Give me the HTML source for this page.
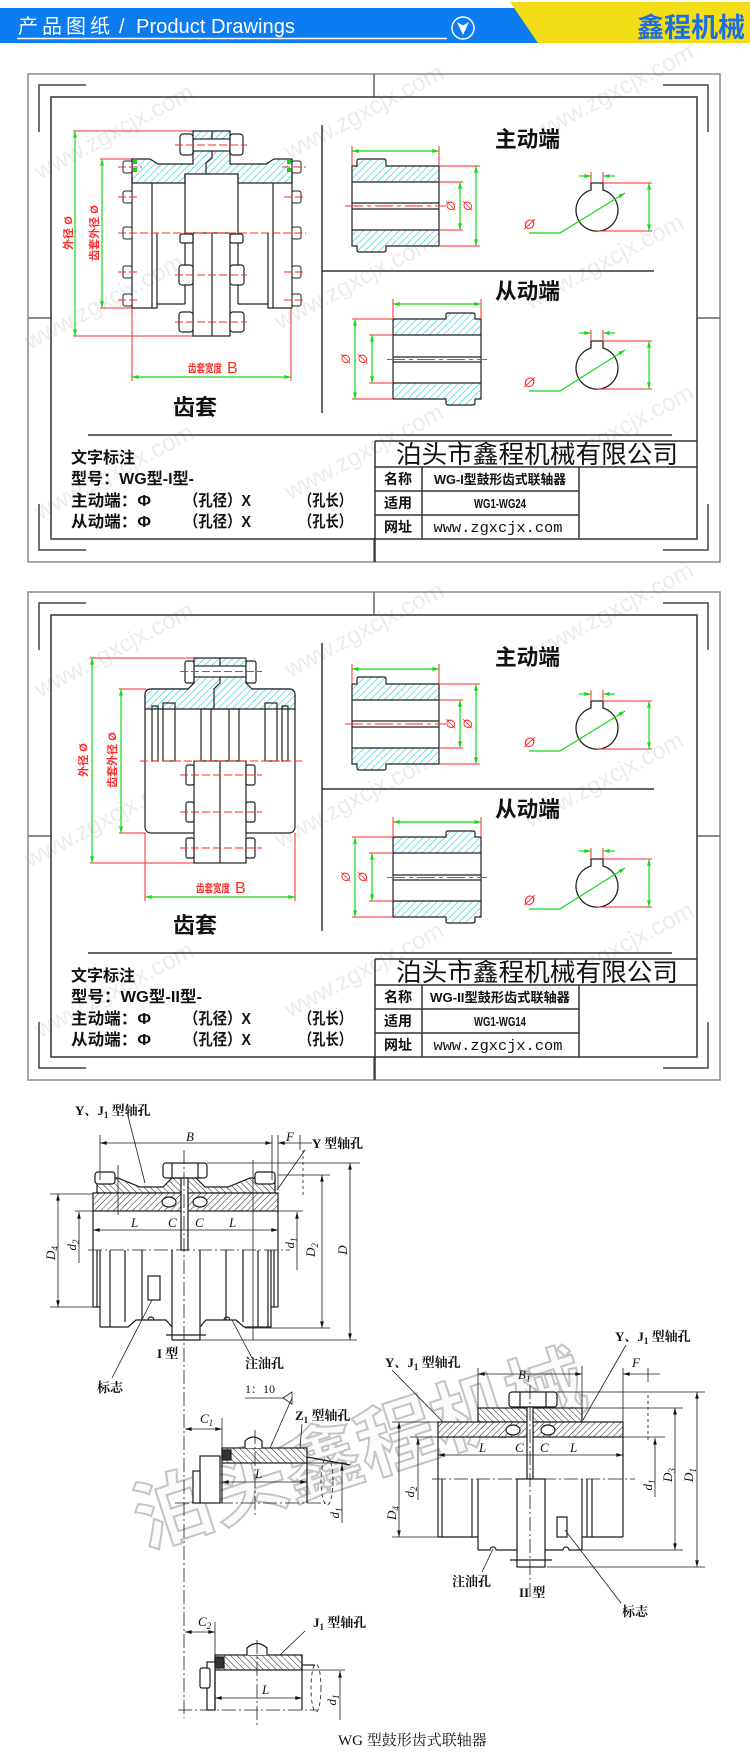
<!DOCTYPE html>
<html><head><meta charset="utf-8">
<style>
html,body{margin:0;padding:0;background:#fff}
svg{display:block}
.cn{font-family:"Liberation Sans","Noto Sans CJK SC",sans-serif}
.sf{font-family:"Liberation Serif","Noto Serif CJK SC",serif}
.mono{font-family:"Liberation Mono","Noto Sans CJK SC",monospace}
</style></head><body>
<svg width="750" height="1756" viewBox="0 0 750 1756" xmlns="http://www.w3.org/2000/svg" xmlns:xlink="http://www.w3.org/1999/xlink">
<defs>
<pattern id="hc" patternUnits="userSpaceOnUse" width="5" height="5" patternTransform="rotate(45)">
<rect width="5" height="5" fill="#fff"/><line x1="0" y1="0" x2="0" y2="5" stroke="#22c4da" stroke-width="1.2"/></pattern>
<pattern id="hk1" patternUnits="userSpaceOnUse" width="4.5" height="4.5" patternTransform="rotate(45)">
<rect width="4.5" height="4.5" fill="#fff"/><line x1="0" y1="0" x2="0" y2="4.5" stroke="#222" stroke-width="1"/></pattern>
<pattern id="hk2" patternUnits="userSpaceOnUse" width="4.5" height="4.5" patternTransform="rotate(-45)">
<rect width="4.5" height="4.5" fill="#fff"/><line x1="0" y1="0" x2="0" y2="4.5" stroke="#222" stroke-width="1"/></pattern>
<marker id="ag" viewBox="0 0 8 6" refX="8" refY="3" markerWidth="7" markerHeight="5" markerUnits="userSpaceOnUse" orient="auto-start-reverse"><path d="M0,0.6 L8,3 L0,5.4 Z" fill="#18d818"/></marker>
<marker id="ak" viewBox="0 0 8 6" refX="8" refY="3" markerWidth="7" markerHeight="5" markerUnits="userSpaceOnUse" orient="auto-start-reverse"><path d="M0,0.8 L8,3 L0,5.2 Z" fill="#111"/></marker>
</defs>

<!-- ============ HEADER ============ -->
<rect x="0" y="8" width="545" height="35" fill="#0c7cf2"/>
<polygon points="510,2 750,2 750,43 538,43" fill="#f3dd17"/>
<line x1="17" y1="38.5" x2="447" y2="38.5" stroke="#fff" stroke-width="1.5"/>
<text class="cn" x="18" y="33" font-size="20" fill="#fff" letter-spacing="4">产品图纸</text>
<text class="cn" x="119" y="33" font-size="20" fill="#fff">/</text>
<text class="cn" x="136" y="33" font-size="20" fill="#fff" textLength="159" lengthAdjust="spacingAndGlyphs">Product Drawings</text>
<circle cx="463" cy="28" r="11" fill="none" stroke="#fff" stroke-width="1.5"/>
<path d="M457,22 L463,25.5 L469,22 L463,35 Z" fill="#fff"/>
<text class="cn" x="637" y="37" font-size="27" font-weight="bold" fill="#1c6ee6" textLength="108" lengthAdjust="spacingAndGlyphs">鑫程机械</text>

<!-- ============ faint watermarks ============ -->
<g class="cn" font-size="24" fill="#ececec">
<text x="40" y="180" transform="rotate(-28 40 180)">www.zgxcjx.com</text>
<text x="290" y="160" transform="rotate(-28 290 160)">www.zgxcjx.com</text>
<text x="540" y="140" transform="rotate(-28 540 140)">www.zgxcjx.com</text>
<text x="30" y="350" transform="rotate(-28 30 350)">www.zgxcjx.com</text>
<text x="280" y="330" transform="rotate(-28 280 330)">www.zgxcjx.com</text>
<text x="530" y="310" transform="rotate(-28 530 310)">www.zgxcjx.com</text>
<text x="40" y="520" transform="rotate(-28 40 520)">www.zgxcjx.com</text>
<text x="290" y="500" transform="rotate(-28 290 500)">www.zgxcjx.com</text>
<text x="540" y="480" transform="rotate(-28 540 480)">www.zgxcjx.com</text>
<text x="40" y="698" transform="rotate(-28 40 698)">www.zgxcjx.com</text>
<text x="290" y="678" transform="rotate(-28 290 678)">www.zgxcjx.com</text>
<text x="540" y="658" transform="rotate(-28 540 658)">www.zgxcjx.com</text>
<text x="30" y="868" transform="rotate(-28 30 868)">www.zgxcjx.com</text>
<text x="280" y="848" transform="rotate(-28 280 848)">www.zgxcjx.com</text>
<text x="530" y="828" transform="rotate(-28 530 828)">www.zgxcjx.com</text>
<text x="40" y="1038" transform="rotate(-28 40 1038)">www.zgxcjx.com</text>
<text x="290" y="1018" transform="rotate(-28 290 1018)">www.zgxcjx.com</text>
<text x="540" y="998" transform="rotate(-28 540 998)">www.zgxcjx.com</text>
</g>

<!-- ============ COMMON FRAME + RIGHT SECTION (drawing 1 coords) ============ -->
<g id="common">
 <rect x="28" y="74" width="692" height="488" fill="none" stroke="#8a8a8a" stroke-width="1.5"/>
 <g stroke="#666" stroke-width="1.5" fill="none">
  <line x1="374" y1="74" x2="374" y2="97"/>
  <line x1="374" y1="539" x2="374" y2="562"/>
  <line x1="28" y1="318" x2="51" y2="318"/>
  <line x1="697" y1="318" x2="720" y2="318"/>
 </g>
 <g stroke="#444" stroke-width="1.5" fill="none">
  <path d="M86,85 H39 V132"/>
  <path d="M663,85 H708 V132"/>
  <path d="M39,504 V550 H86"/>
  <path d="M708,504 V550 H663"/>
 </g>
 <rect x="51" y="97" width="646" height="442" fill="none" stroke="#333" stroke-width="1.5"/>
 <g stroke="#333" stroke-width="1.5" fill="none">
  <line x1="322" y1="125" x2="322" y2="413"/>
  <line x1="322" y1="271" x2="654" y2="271"/>
  <line x1="88" y1="435" x2="672" y2="435"/>
  <line x1="375" y1="441" x2="697" y2="441"/>
  <line x1="375" y1="441" x2="375" y2="562"/>
  <line x1="375" y1="467" x2="697" y2="467"/>
  <line x1="375" y1="491" x2="579" y2="491"/>
  <line x1="375" y1="515" x2="579" y2="515"/>
  <line x1="422" y1="467" x2="422" y2="539"/>
  <line x1="579" y1="467" x2="579" y2="539"/>
 </g>
 <!-- driving hub -->
 <g stroke="#222" stroke-width="1.2" fill="none">
  <path d="M352,166 H357 V161 Q357,159 359,159 H384 Q386,159 386,161 V166 H439 V182 H352 Z" fill="url(#hc)"/>
  <path d="M352,230 H439 V246 H386 V250 Q386,252 384,252 H359 Q357,252 357,250 V246 H352 Z" fill="url(#hc)"/>
  <line x1="352" y1="182" x2="352" y2="230"/>
  <line x1="439" y1="182" x2="439" y2="230"/>
  <line x1="352" y1="203" x2="439" y2="203"/>
  <line x1="352" y1="209" x2="439" y2="209"/>
 </g>
 <g stroke="#ff2a2a" stroke-width="1" fill="none">
  <line x1="345" y1="206" x2="446" y2="206" stroke-dasharray="18,4,4,4"/>
  <line x1="352" y1="146" x2="352" y2="166"/>
  <line x1="439" y1="146" x2="439" y2="166"/>
  <line x1="439" y1="166" x2="480" y2="166"/>
  <line x1="439" y1="246" x2="480" y2="246"/>
  <line x1="439" y1="182" x2="463" y2="182"/>
  <line x1="439" y1="230" x2="463" y2="230"/>
 </g>
 <g stroke="#18d818" stroke-width="1.2" fill="none">
  <line x1="352" y1="151" x2="439" y2="151" marker-start="url(#ag)" marker-end="url(#ag)"/>
  <line x1="476" y1="166" x2="476" y2="246" marker-start="url(#ag)" marker-end="url(#ag)"/>
  <line x1="460" y1="182" x2="460" y2="230" marker-start="url(#ag)" marker-end="url(#ag)"/>
 </g>
 <!-- key circle 1 -->
 <path d="M591,190 V183 H603 V190 A21,21 0 1 1 591,190 Z" fill="#fff" stroke="#222" stroke-width="1.3"/>
 <g stroke="#ff2a2a" stroke-width="1" fill="none">
  <line x1="591" y1="172" x2="591" y2="183"/>
  <line x1="603" y1="172" x2="603" y2="183"/>
  <line x1="603" y1="183" x2="652" y2="183"/>
  <line x1="597" y1="231" x2="652" y2="231"/>
 </g>
 <g stroke="#18d818" stroke-width="1.2" fill="none">
  <line x1="579" y1="176" x2="591" y2="176" marker-end="url(#ag)"/>
  <line x1="615" y1="176" x2="603" y2="176" marker-end="url(#ag)"/>
  <line x1="649" y1="183" x2="649" y2="231" marker-start="url(#ag)" marker-end="url(#ag)"/>
  <polyline points="529,233 560,233 625,193" marker-end="url(#ag)"/>
 </g>
 <!-- driven hub -->
 <g stroke="#222" stroke-width="1.2" fill="none">
  <path d="M393,319 H446 V315 Q446,313 448,313 H473 Q475,313 475,315 V319 H481 V335 H393 Z" fill="url(#hc)"/>
  <path d="M393,383 H481 V399 H475 V403 Q475,405 473,405 H448 Q446,405 446,403 V399 H393 Z" fill="url(#hc)"/>
  <line x1="393" y1="335" x2="393" y2="383"/>
  <line x1="481" y1="335" x2="481" y2="383"/>
  <line x1="393" y1="357" x2="481" y2="357"/>
  <line x1="393" y1="362" x2="481" y2="362"/>
 </g>
 <g stroke="#ff2a2a" stroke-width="1" fill="none">
  <line x1="387" y1="359.5" x2="487" y2="359.5" stroke-dasharray="18,4,4,4"/>
  <line x1="393" y1="299" x2="393" y2="319"/>
  <line x1="481" y1="299" x2="481" y2="319"/>
  <line x1="352" y1="319" x2="393" y2="319"/>
  <line x1="352" y1="399" x2="393" y2="399"/>
  <line x1="369" y1="335" x2="393" y2="335"/>
  <line x1="369" y1="383" x2="393" y2="383"/>
 </g>
 <g stroke="#18d818" stroke-width="1.2" fill="none">
  <line x1="393" y1="304" x2="481" y2="304" marker-start="url(#ag)" marker-end="url(#ag)"/>
  <line x1="355" y1="319" x2="355" y2="399" marker-start="url(#ag)" marker-end="url(#ag)"/>
  <line x1="372" y1="335" x2="372" y2="383" marker-start="url(#ag)" marker-end="url(#ag)"/>
 </g>
 <!-- key circle 2 -->
 <path d="M591,348 V341 H603 V348 A21,21 0 1 1 591,348 Z" fill="#fff" stroke="#222" stroke-width="1.3"/>
 <g stroke="#ff2a2a" stroke-width="1" fill="none">
  <line x1="591" y1="330" x2="591" y2="341"/>
  <line x1="603" y1="330" x2="603" y2="341"/>
  <line x1="603" y1="341" x2="652" y2="341"/>
  <line x1="597" y1="389" x2="652" y2="389"/>
 </g>
 <g stroke="#18d818" stroke-width="1.2" fill="none">
  <line x1="579" y1="333" x2="591" y2="333" marker-end="url(#ag)"/>
  <line x1="615" y1="333" x2="603" y2="333" marker-end="url(#ag)"/>
  <line x1="649" y1="341" x2="649" y2="389" marker-start="url(#ag)" marker-end="url(#ag)"/>
  <polyline points="529,391 560,391 625,350" marker-end="url(#ag)"/>
 </g>
</g>
<use xlink:href="#common" href="#common" transform="translate(0,518)"/>

<!-- ============ DRAWING 1 TEXTS ============ -->
<g class="cn">
 <text x="495" y="147" font-size="22" font-weight="bold" fill="#111" textLength="65" lengthAdjust="spacingAndGlyphs">主动端</text>
 <text x="495" y="299" font-size="22" font-weight="bold" fill="#111" textLength="65" lengthAdjust="spacingAndGlyphs">从动端</text>
 <text x="173" y="415" font-size="22" font-weight="bold" fill="#111" textLength="44" lengthAdjust="spacingAndGlyphs">齿套</text>
 <g fill="#ff2a2a" font-size="12" font-style="italic">
  <text transform="translate(455,206) rotate(-90)" text-anchor="middle">Ø</text>
  <text transform="translate(472,206) rotate(-90)" text-anchor="middle">Ø</text>
  <text transform="translate(350,359) rotate(-90)" text-anchor="middle">Ø</text>
  <text transform="translate(367,359) rotate(-90)" text-anchor="middle">Ø</text>
  <text x="524" y="229" font-size="14">Ø</text>
  <text x="524" y="387" font-size="14">Ø</text>
 </g>
 <text x="396" y="463" font-size="25" fill="#111" textLength="282" lengthAdjust="spacingAndGlyphs">泊头市鑫程机械有限公司</text>
 <g font-size="14" font-weight="bold" fill="#111" text-anchor="middle">
  <text x="398" y="484">名称</text>
  <text x="398" y="508">适用</text>
  <text x="398" y="532">网址</text>
 </g>
 <text x="500" y="484" font-size="13" font-weight="bold" fill="#111" text-anchor="middle" textLength="132" lengthAdjust="spacingAndGlyphs">WG-I型鼓形齿式联轴器</text>
 <text x="500" y="508" font-size="13" font-weight="bold" fill="#111" text-anchor="middle" textLength="52" lengthAdjust="spacingAndGlyphs">WG1-WG24</text>
 <text class="mono" x="498" y="532" font-size="15" fill="#111" text-anchor="middle" textLength="129" lengthAdjust="spacingAndGlyphs">www.zgxcjx.com</text>
 <g font-size="16" font-weight="bold" fill="#111">
  <text x="71" y="463" textLength="64" lengthAdjust="spacingAndGlyphs">文字标注</text>
  <text x="71" y="484" textLength="123" lengthAdjust="spacingAndGlyphs">型号：WG型-I型-</text>
  <text x="71" y="506" textLength="80" lengthAdjust="spacingAndGlyphs">主动端：Φ</text>
  <text x="184" y="506" textLength="67" lengthAdjust="spacingAndGlyphs">（孔径）X</text>
  <text x="299" y="506" textLength="53" lengthAdjust="spacingAndGlyphs">（孔长）</text>
  <text x="71" y="527" textLength="80" lengthAdjust="spacingAndGlyphs">从动端：Φ</text>
  <text x="184" y="527" textLength="67" lengthAdjust="spacingAndGlyphs">（孔径）X</text>
  <text x="299" y="527" textLength="53" lengthAdjust="spacingAndGlyphs">（孔长）</text>
 </g>
</g>

<!-- ============ DRAWING 1 COUPLING (Type I) ============ -->
<g>
 <g stroke="#ff2a2a" stroke-width="1" fill="none">
  <line x1="73" y1="131" x2="193" y2="131"/>
  <line x1="73" y1="336" x2="193" y2="336"/>
  <line x1="100" y1="159" x2="132" y2="159"/>
  <line x1="100" y1="308" x2="132" y2="308"/>
  <line x1="132" y1="308" x2="132" y2="381"/>
  <line x1="291" y1="308" x2="291" y2="381"/>
 </g>
 <g stroke="#18d818" stroke-width="1.2" fill="none">
  <line x1="75" y1="131" x2="75" y2="336" marker-start="url(#ag)" marker-end="url(#ag)"/>
  <line x1="102" y1="159" x2="102" y2="308" marker-start="url(#ag)" marker-end="url(#ag)"/>
  <line x1="132" y1="377" x2="291" y2="377" marker-start="url(#ag)" marker-end="url(#ag)"/>
 </g>
 <g class="cn" fill="#ff2a2a" font-weight="bold">
  <text transform="translate(72,233) rotate(-90)" text-anchor="middle" font-size="11">外径 Ø</text>
  <text transform="translate(98,233) rotate(-90)" text-anchor="middle" font-size="11">齿套外径 Ø</text>
  <text x="188" y="372" font-size="11" textLength="34" lengthAdjust="spacingAndGlyphs">齿套宽度</text>
  <text x="227" y="373" font-size="16" font-weight="normal">B</text>
 </g>
 <g stroke="#222" stroke-width="1.2" fill="none">
  <path d="M132,159 H150 L158,164 H193 V131 H230 V164 H266 L274,159 H292 V183 H238 V174 H185 V183 H132 Z" fill="url(#hc)"/>
  <rect x="193" y="139" width="37" height="12" fill="#fff"/>
  <path d="M212,131 V139 M212,151 V158 L206,163 V174"/>
  <line x1="132" y1="159" x2="132" y2="308"/>
  <line x1="292" y1="159" x2="292" y2="308"/>
  <path d="M132,308 H157 V304 H185"/>
  <path d="M292,308 H268 V304 H238"/>
  <line x1="152" y1="183" x2="152" y2="308"/>
  <line x1="157" y1="233" x2="157" y2="304"/>
  <line x1="273" y1="183" x2="273" y2="308"/>
  <line x1="268" y1="233" x2="268" y2="304"/>
  <line x1="185" y1="174" x2="185" y2="304"/>
  <line x1="238" y1="174" x2="238" y2="304"/>
  <rect x="193" y="233" width="37" height="103" fill="#fff"/>
  <line x1="212" y1="233" x2="212" y2="336"/>
  <rect x="180" y="134" width="13" height="21" rx="3" fill="#fff"/>
  <rect x="230" y="134" width="13" height="21" rx="3" fill="#fff"/>
  <rect x="179" y="265" width="14" height="20" rx="3" fill="#fff"/>
  <rect x="230" y="265" width="14" height="20" rx="3" fill="#fff"/>
  <rect x="179" y="312" width="14" height="20" rx="3" fill="#fff"/>
  <rect x="230" y="312" width="14" height="20" rx="3" fill="#fff"/>
  <rect x="180" y="234" width="13" height="9" rx="2" fill="#fff"/>
  <rect x="230" y="234" width="13" height="9" rx="2" fill="#fff"/>
  <g fill="#fff" stroke-width="1">
   <rect x="123" y="161" width="9" height="12" rx="2"/><rect x="292" y="161" width="9" height="12" rx="2"/>
   <rect x="123" y="191" width="9" height="12" rx="2"/><rect x="292" y="191" width="9" height="12" rx="2"/>
   <rect x="123" y="227" width="9" height="12" rx="2"/><rect x="292" y="227" width="9" height="12" rx="2"/>
   <rect x="123" y="266" width="9" height="12" rx="2"/><rect x="292" y="266" width="9" height="12" rx="2"/>
   <rect x="123" y="294" width="9" height="12" rx="2"/><rect x="292" y="294" width="9" height="12" rx="2"/>
  </g>
 </g>
 <g fill="#1ec81e">
  <rect x="133" y="160" width="4" height="4"/><rect x="133" y="168" width="4" height="4"/>
  <rect x="287" y="160" width="4" height="4"/><rect x="287" y="168" width="4" height="4"/>
 </g>
 <g stroke="#ff2a2a" stroke-width="1" fill="none" stroke-dasharray="8,3">
  <line x1="118" y1="233" x2="306" y2="233"/>
  <line x1="175" y1="145" x2="247" y2="145"/>
  <line x1="175" y1="275" x2="247" y2="275"/>
  <line x1="175" y1="322" x2="247" y2="322"/>
  <line x1="118" y1="167" x2="142" y2="167"/><line x1="282" y1="167" x2="306" y2="167"/>
  <line x1="118" y1="197" x2="140" y2="197"/><line x1="284" y1="197" x2="306" y2="197"/>
  <line x1="118" y1="272" x2="140" y2="272"/><line x1="284" y1="272" x2="306" y2="272"/>
  <line x1="118" y1="300" x2="140" y2="300"/><line x1="284" y1="300" x2="306" y2="300"/>
 </g>
</g>

<!-- ============ DRAWING 2 TEXTS ============ -->
<g class="cn">
 <text x="495" y="665" font-size="22" font-weight="bold" fill="#111" textLength="65" lengthAdjust="spacingAndGlyphs">主动端</text>
 <text x="495" y="817" font-size="22" font-weight="bold" fill="#111" textLength="65" lengthAdjust="spacingAndGlyphs">从动端</text>
 <text x="173" y="933" font-size="22" font-weight="bold" fill="#111" textLength="44" lengthAdjust="spacingAndGlyphs">齿套</text>
 <g fill="#ff2a2a" font-size="12" font-style="italic">
  <text transform="translate(455,724) rotate(-90)" text-anchor="middle">Ø</text>
  <text transform="translate(472,724) rotate(-90)" text-anchor="middle">Ø</text>
  <text transform="translate(350,877) rotate(-90)" text-anchor="middle">Ø</text>
  <text transform="translate(367,877) rotate(-90)" text-anchor="middle">Ø</text>
  <text x="524" y="747" font-size="14">Ø</text>
  <text x="524" y="905" font-size="14">Ø</text>
 </g>
 <text x="396" y="981" font-size="25" fill="#111" textLength="282" lengthAdjust="spacingAndGlyphs">泊头市鑫程机械有限公司</text>
 <g font-size="14" font-weight="bold" fill="#111" text-anchor="middle">
  <text x="398" y="1002">名称</text>
  <text x="398" y="1026">适用</text>
  <text x="398" y="1050">网址</text>
 </g>
 <text x="500" y="1002" font-size="13" font-weight="bold" fill="#111" text-anchor="middle" textLength="140" lengthAdjust="spacingAndGlyphs">WG-II型鼓形齿式联轴器</text>
 <text x="500" y="1026" font-size="13" font-weight="bold" fill="#111" text-anchor="middle" textLength="52" lengthAdjust="spacingAndGlyphs">WG1-WG14</text>
 <text class="mono" x="498" y="1050" font-size="15" fill="#111" text-anchor="middle" textLength="129" lengthAdjust="spacingAndGlyphs">www.zgxcjx.com</text>
 <g font-size="16" font-weight="bold" fill="#111">
  <text x="71" y="981" textLength="64" lengthAdjust="spacingAndGlyphs">文字标注</text>
  <text x="71" y="1002" textLength="131" lengthAdjust="spacingAndGlyphs">型号：WG型-II型-</text>
  <text x="71" y="1024" textLength="80" lengthAdjust="spacingAndGlyphs">主动端：Φ</text>
  <text x="184" y="1024" textLength="67" lengthAdjust="spacingAndGlyphs">（孔径）X</text>
  <text x="299" y="1024" textLength="53" lengthAdjust="spacingAndGlyphs">（孔长）</text>
  <text x="71" y="1045" textLength="80" lengthAdjust="spacingAndGlyphs">从动端：Φ</text>
  <text x="184" y="1045" textLength="67" lengthAdjust="spacingAndGlyphs">（孔径）X</text>
  <text x="299" y="1045" textLength="53" lengthAdjust="spacingAndGlyphs">（孔长）</text>
 </g>
</g>

<!-- ============ DRAWING 2 COUPLING (Type II) ============ -->
<g>
 <g stroke="#ff2a2a" stroke-width="1" fill="none">
  <line x1="90" y1="658" x2="194" y2="658"/>
  <line x1="90" y1="863" x2="246" y2="863"/>
  <line x1="119" y1="689" x2="146" y2="689"/>
  <line x1="119" y1="833" x2="146" y2="833"/>
  <line x1="145" y1="833" x2="145" y2="901"/>
  <line x1="295" y1="833" x2="295" y2="901"/>
 </g>
 <g stroke="#18d818" stroke-width="1.2" fill="none">
  <line x1="92" y1="658" x2="92" y2="863" marker-start="url(#ag)" marker-end="url(#ag)"/>
  <line x1="121" y1="689" x2="121" y2="833" marker-start="url(#ag)" marker-end="url(#ag)"/>
  <line x1="145" y1="897" x2="295" y2="897" marker-start="url(#ag)" marker-end="url(#ag)"/>
 </g>
 <g class="cn" fill="#ff2a2a" font-weight="bold">
  <text transform="translate(87,760) rotate(-90)" text-anchor="middle" font-size="11">外径 Ø</text>
  <text transform="translate(116,760) rotate(-90)" text-anchor="middle" font-size="11">齿套外径 Ø</text>
  <text x="196" y="892" font-size="11" textLength="34" lengthAdjust="spacingAndGlyphs">齿套宽度</text>
  <text x="235" y="893" font-size="16" font-weight="normal">B</text>
 </g>
 <g stroke="#222" stroke-width="1.2" fill="none">
  <rect x="145" y="689" width="150" height="144" rx="6" fill="#fff"/>
  <path d="M145,709 V695 Q145,689 151,689 H188 L194,683 V658 H246 V683 L252,689 H289 Q295,689 295,695 V709 Z" fill="url(#hc)"/>
  <rect x="194" y="666" width="52" height="11" fill="#fff"/>
  <path d="M220,658 V666 M220,677 V683 L214,689 V709"/>
  <rect x="185" y="661" width="9" height="22" rx="2" fill="#fff"/>
  <rect x="246" y="661" width="10" height="22" rx="2" fill="#fff"/>
  <rect x="152" y="706" width="6" height="55"/>
  <rect x="163" y="703" width="12" height="58"/>
  <rect x="201" y="709" width="38" height="52"/>
  <line x1="211" y1="709" x2="211" y2="761"/>
  <line x1="229" y1="709" x2="229" y2="761"/>
  <rect x="265" y="703" width="12" height="58"/>
  <rect x="282" y="706" width="6" height="55"/>
  <rect x="194" y="761" width="52" height="102" fill="#fff"/>
  <line x1="220" y1="761" x2="220" y2="863"/>
  <rect x="186" y="765" width="8" height="20" rx="2" fill="#fff"/>
  <rect x="246" y="765" width="9" height="20" rx="2" fill="#fff"/>
  <rect x="186" y="802" width="8" height="20" rx="2" fill="#fff"/>
  <rect x="246" y="802" width="9" height="20" rx="2" fill="#fff"/>
  <rect x="186" y="838" width="8" height="20" rx="2" fill="#fff"/>
  <rect x="246" y="838" width="9" height="20" rx="2" fill="#fff"/>
 </g>
 <g stroke="#ff2a2a" stroke-width="1" fill="none" stroke-dasharray="8,3">
  <line x1="140" y1="761" x2="302" y2="761"/>
  <line x1="180" y1="671.5" x2="262" y2="671.5"/>
  <line x1="180" y1="775" x2="262" y2="775"/>
  <line x1="180" y1="812" x2="262" y2="812"/>
  <line x1="180" y1="848" x2="262" y2="848"/>
 </g>
</g>

<!-- ============ BOTTOM TECH DRAWING ============ -->
<!-- big hollow watermark -->
<text class="cn" x="359" y="1477" transform="rotate(-18 359 1449)" text-anchor="middle" font-size="78" font-weight="bold" fill="#fbfbfb" stroke="#c4c4c4" stroke-width="2" textLength="470" lengthAdjust="spacingAndGlyphs">泊头鑫程机械</text>

<!-- Type I -->
<g stroke="#1a1a1a" stroke-width="1.2" fill="none">
 <path d="M97,1193 V1178 H118 L140,1187 H163 L172,1178 H196 L205,1187 H228 L250,1178 H275 V1193 Z" fill="url(#hk2)"/>
 <rect x="95" y="1172" width="20" height="12" rx="3" fill="#fff"/>
 <rect x="255" y="1172" width="20" height="12" rx="3" fill="#fff"/>
 <rect x="163" y="1163" width="44" height="15" rx="3" fill="#fff"/>
 <line x1="172" y1="1163" x2="172" y2="1178"/><line x1="198" y1="1163" x2="198" y2="1178"/>
 <rect x="93" y="1193" width="88" height="18" fill="url(#hk1)"/>
 <rect x="188" y="1193" width="90" height="18" fill="url(#hk1)"/>
 <rect x="181" y="1178" width="7" height="72" fill="#fff"/>
 <ellipse cx="169" cy="1202" rx="7" ry="5" fill="#fff"/>
 <ellipse cx="200" cy="1202" rx="7" ry="5" fill="#fff"/>
 <line x1="93" y1="1211" x2="93" y2="1307"/>
 <line x1="278" y1="1211" x2="278" y2="1307"/>
 <line x1="97" y1="1250" x2="97" y2="1307"/>
 <line x1="274" y1="1250" x2="274" y2="1307"/>
 <line x1="93" y1="1307" x2="100" y2="1307"/>
 <line x1="271" y1="1307" x2="278" y2="1307"/>
 <line x1="100" y1="1250" x2="100" y2="1327"/>
 <line x1="110" y1="1250" x2="110" y2="1327"/>
 <line x1="125" y1="1250" x2="125" y2="1322"/>
 <line x1="142" y1="1250" x2="142" y2="1320"/>
 <path d="M100,1327 H128 L136,1320 H166 L172,1327"/>
 <line x1="172" y1="1250" x2="172" y2="1340"/>
 <line x1="200" y1="1250" x2="200" y2="1340"/>
 <line x1="172" y1="1340" x2="200" y2="1340"/>
 <line x1="166" y1="1335" x2="206" y2="1335"/>
 <line x1="226" y1="1250" x2="226" y2="1320"/>
 <line x1="243" y1="1250" x2="243" y2="1322"/>
 <line x1="258" y1="1250" x2="258" y2="1327"/>
 <line x1="268" y1="1250" x2="268" y2="1327"/>
 <path d="M200,1327 L206,1320 H236 L244,1327 H271 V1250"/>
 <rect x="148" y="1276" width="12" height="24"/>
 <path d="M148,1320 A3,3 0 0 1 154,1320"/>
 <path d="M224,1320 A3,3 0 0 1 230,1320"/>
</g>
<g stroke="#1a1a1a" stroke-width="0.8" fill="none">
 <line x1="184" y1="1150" x2="184" y2="1718" stroke-dasharray="14,3,2,3"/>
 <line x1="88" y1="1250" x2="290" y2="1250" stroke-dasharray="14,3,2,3"/>
 <line x1="118" y1="1165" x2="118" y2="1215"/>
 <line x1="253" y1="1160" x2="253" y2="1340"/>
 <line x1="100" y1="1135" x2="100" y2="1180"/>
 <line x1="272" y1="1135" x2="272" y2="1180"/>
 <line x1="278" y1="1135" x2="278" y2="1190"/>
 <line x1="300" y1="1135" x2="300" y2="1150"/>
 <line x1="100" y1="1143" x2="272" y2="1143" marker-start="url(#ak)" marker-end="url(#ak)"/>
 <line x1="312" y1="1143" x2="278" y2="1143" marker-end="url(#ak)"/>
 <line x1="93" y1="1230" x2="278" y2="1230" marker-start="url(#ak)" marker-end="url(#ak)"/>
 <line x1="50" y1="1194" x2="93" y2="1194"/>
 <line x1="50" y1="1307" x2="93" y2="1307"/>
 <line x1="58" y1="1194" x2="58" y2="1307" marker-start="url(#ak)" marker-end="url(#ak)"/>
 <line x1="75" y1="1211" x2="93" y2="1211"/>
 <line x1="79" y1="1263" x2="79" y2="1212" marker-end="url(#ak)"/>
 <line x1="278" y1="1211" x2="303" y2="1211"/>
 <line x1="297" y1="1270" x2="297" y2="1212" marker-end="url(#ak)"/>
 <line x1="303" y1="1150" x2="303" y2="1196" stroke-dasharray="3,3"/>
 <line x1="278" y1="1175" x2="330" y2="1175"/>
 <line x1="245" y1="1328" x2="330" y2="1328"/>
 <line x1="322" y1="1175" x2="322" y2="1328" marker-start="url(#ak)" marker-end="url(#ak)"/>
 <line x1="207" y1="1163" x2="360" y2="1163"/>
 <line x1="200" y1="1340" x2="357" y2="1340"/>
 <line x1="350" y1="1163" x2="350" y2="1340" marker-start="url(#ak)" marker-end="url(#ak)"/>
 <line x1="128" y1="1116" x2="145" y2="1183"/>
 <line x1="305" y1="1150" x2="277" y2="1190"/>
 <line x1="252" y1="1358" x2="232" y2="1320"/>
 <line x1="112" y1="1378" x2="152" y2="1300"/>
</g>
<g class="sf" fill="#111" font-size="13">
 <text x="75" y="1115" font-weight="bold">Y、J<tspan font-size="9" dy="3">1</tspan><tspan dy="-3"> 型轴孔</tspan></text>
 <text x="186" y="1141" font-style="italic">B</text>
 <text x="286" y="1141" font-style="italic">F</text>
 <text x="312" y="1148" font-weight="bold">Y 型轴孔</text>
 <text x="131" y="1227" font-style="italic">L</text>
 <text x="168" y="1227" font-style="italic">C</text>
 <text x="195" y="1227" font-style="italic">C</text>
 <text x="229" y="1227" font-style="italic">L</text>
 <text transform="translate(55,1253) rotate(-90)" text-anchor="middle" font-style="italic">D<tspan font-size="9" dy="3">4</tspan></text>
 <text transform="translate(76,1245) rotate(-90)" text-anchor="middle" font-style="italic">d<tspan font-size="9" dy="3">2</tspan></text>
 <text transform="translate(294,1243) rotate(-90)" text-anchor="middle" font-style="italic">d<tspan font-size="9" dy="3">1</tspan></text>
 <text transform="translate(315,1250) rotate(-90)" text-anchor="middle" font-style="italic">D<tspan font-size="9" dy="3">2</tspan></text>
 <text transform="translate(347,1250) rotate(-90)" text-anchor="middle" font-style="italic">D</text>
 <text x="157" y="1358" font-weight="bold">I 型</text>
 <text x="245" y="1368" font-weight="bold">注油孔</text>
 <text x="97" y="1392" font-weight="bold">标志</text>
</g>

<!-- Z1 part -->
<g stroke="#1a1a1a" stroke-width="1.2" fill="none">
 <rect x="222" y="1448" width="85" height="15" fill="url(#hk2)"/>
 <path d="M245,1448 V1441 Q253,1433 262,1441 V1448" fill="#fff"/>
 <rect x="222" y="1450" width="9" height="10" fill="#333"/>
 <rect x="200" y="1456" width="20" height="47" fill="#fff"/>
 <rect x="193" y="1471" width="7" height="32" fill="#fff"/>
 <line x1="222" y1="1463" x2="222" y2="1503"/>
 <line x1="307" y1="1458" x2="307" y2="1503"/>
 <line x1="307" y1="1457" x2="350" y2="1465"/>
</g>
<g stroke="#1a1a1a" stroke-width="0.8" fill="none">
 <ellipse cx="327" cy="1481" rx="6" ry="24" stroke-dasharray="4,3"/>
 <line x1="175" y1="1503" x2="330" y2="1503" stroke-dasharray="14,3,2,3"/>
 <line x1="255" y1="1430" x2="255" y2="1518" stroke-dasharray="14,3,2,3"/>
 <line x1="245" y1="1398" x2="283" y2="1398"/>
 <path d="M283,1398 L292,1392 L292,1404 Z"/>
 <line x1="292" y1="1398" x2="270" y2="1448"/>
 <line x1="185" y1="1429" x2="222" y2="1429" marker-start="url(#ak)" marker-end="url(#ak)"/>
 <line x1="222" y1="1418" x2="222" y2="1448"/>
 <line x1="302" y1="1424" x2="300" y2="1448"/>
 <line x1="222" y1="1482" x2="307" y2="1482" marker-start="url(#ak)" marker-end="url(#ak)"/>
 <line x1="307" y1="1463" x2="347" y2="1463"/>
 <line x1="342" y1="1523" x2="342" y2="1464" marker-end="url(#ak)"/>
</g>
<g class="sf" fill="#111" font-size="13">
 <text x="245" y="1393" font-size="12">1：10</text>
 <text x="200" y="1423" font-style="italic">C<tspan font-size="9" dy="3">1</tspan></text>
 <text x="295" y="1420" font-weight="bold">Z<tspan font-size="9" dy="3">1</tspan><tspan dy="-3"> 型轴孔</tspan></text>
 <text x="255" y="1478" font-style="italic">L</text>
 <text transform="translate(339,1513) rotate(-90)" text-anchor="middle" font-style="italic">d<tspan font-size="9" dy="3">1</tspan></text>
</g>

<!-- J1 part -->
<g stroke="#1a1a1a" stroke-width="1.2" fill="none">
 <rect x="215" y="1655" width="87" height="15" fill="url(#hk2)"/>
 <path d="M247,1655 V1648 Q257,1639 267,1648 V1655" fill="#fff"/>
 <rect x="215" y="1657" width="9" height="11" fill="#333"/>
 <rect x="207" y="1662" width="8" height="48" fill="#fff"/>
 <rect x="200" y="1668" width="10" height="20" rx="2" fill="#fff"/>
 <line x1="215" y1="1670" x2="215" y2="1710"/>
 <line x1="302" y1="1655" x2="302" y2="1710"/>
 <line x1="302" y1="1665" x2="315" y2="1665"/>
</g>
<g stroke="#1a1a1a" stroke-width="0.8" fill="none">
 <ellipse cx="316" cy="1688" rx="5" ry="24" stroke-dasharray="4,3"/>
 <line x1="178" y1="1710" x2="317" y2="1710" stroke-dasharray="14,3,2,3"/>
 <line x1="257" y1="1640" x2="257" y2="1727" stroke-dasharray="14,3,2,3"/>
 <line x1="185" y1="1632" x2="215" y2="1632" marker-start="url(#ak)" marker-end="url(#ak)"/>
 <line x1="215" y1="1622" x2="215" y2="1655"/>
 <line x1="305" y1="1631" x2="280" y2="1655"/>
 <line x1="215" y1="1698" x2="302" y2="1698" marker-start="url(#ak)" marker-end="url(#ak)"/>
 <line x1="302" y1="1670" x2="345" y2="1670"/>
 <line x1="340" y1="1720" x2="340" y2="1671" marker-end="url(#ak)"/>
</g>
<g class="sf" fill="#111" font-size="13">
 <text x="198" y="1626" font-style="italic">C<tspan font-size="9" dy="3">2</tspan></text>
 <text x="313" y="1627" font-weight="bold">J<tspan font-size="9" dy="3">1</tspan><tspan dy="-3"> 型轴孔</tspan></text>
 <text x="262" y="1694" font-style="italic">L</text>
 <text transform="translate(336,1700) rotate(-90)" text-anchor="middle" font-style="italic">d<tspan font-size="9" dy="3">1</tspan></text>
</g>

<!-- Type II -->
<g stroke="#1a1a1a" stroke-width="1.2" fill="none">
 <rect x="509" y="1392" width="48" height="15" rx="3" fill="#fff"/>
 <line x1="520" y1="1392" x2="520" y2="1407"/><line x1="546" y1="1392" x2="546" y2="1407"/>
 <rect x="478" y="1408" width="104" height="14" fill="url(#hk2)"/>
 <rect x="438" y="1422" width="89" height="15" fill="url(#hk1)"/>
 <rect x="533" y="1422" width="90" height="15" fill="url(#hk1)"/>
 <rect x="527" y="1407" width="6" height="72" fill="#fff"/>
 <ellipse cx="513" cy="1430" rx="7" ry="5" fill="#fff"/>
 <ellipse cx="548" cy="1430" rx="7" ry="5" fill="#fff"/>
 <line x1="438" y1="1437" x2="438" y2="1537"/>
 <line x1="442" y1="1479" x2="442" y2="1537"/>
 <line x1="438" y1="1537" x2="478" y2="1537"/>
 <line x1="472" y1="1479" x2="472" y2="1537"/>
 <line x1="478" y1="1479" x2="478" y2="1550"/>
 <path d="M478,1550 H490 A3,3 0 0 1 496,1550 H517"/>
 <rect x="517" y="1479" width="28" height="88" fill="#fff"/>
 <path d="M545,1550 H563 A3,3 0 0 1 569,1550 H582"/>
 <line x1="582" y1="1479" x2="582" y2="1550"/>
 <line x1="587" y1="1479" x2="587" y2="1537"/>
 <line x1="592" y1="1479" x2="592" y2="1537"/>
 <line x1="582" y1="1537" x2="623" y2="1537"/>
 <line x1="623" y1="1437" x2="623" y2="1537"/>
 <rect x="557" y="1517" width="10" height="20"/>
 <line x1="510" y1="1560" x2="552" y2="1560"/>
</g>
<g stroke="#1a1a1a" stroke-width="0.8" fill="none">
 <line x1="530" y1="1385" x2="530" y2="1600" stroke-dasharray="14,3,2,3"/>
 <line x1="432" y1="1479" x2="635" y2="1479" stroke-dasharray="14,3,2,3"/>
 <line x1="438" y1="1455" x2="623" y2="1455" marker-start="url(#ak)" marker-end="url(#ak)"/>
 <line x1="478" y1="1368" x2="478" y2="1408"/>
 <line x1="582" y1="1366" x2="582" y2="1420"/>
 <line x1="478" y1="1374" x2="582" y2="1374" marker-start="url(#ak)" marker-end="url(#ak)"/>
 <line x1="623" y1="1368" x2="623" y2="1422"/>
 <line x1="648" y1="1368" x2="648" y2="1382"/>
 <line x1="660" y1="1374" x2="623" y2="1374" marker-end="url(#ak)"/>
 <line x1="648" y1="1395" x2="648" y2="1440" stroke-dasharray="3,3"/>
 <line x1="392" y1="1422" x2="438" y2="1422"/>
 <line x1="392" y1="1537" x2="438" y2="1537"/>
 <line x1="399" y1="1422" x2="399" y2="1537" marker-start="url(#ak)" marker-end="url(#ak)"/>
 <line x1="410" y1="1437" x2="438" y2="1437"/>
 <line x1="418" y1="1500" x2="418" y2="1438" marker-end="url(#ak)"/>
 <line x1="623" y1="1437" x2="665" y2="1437"/>
 <line x1="655" y1="1497" x2="655" y2="1438" marker-end="url(#ak)"/>
 <line x1="582" y1="1408" x2="683" y2="1408"/>
 <line x1="582" y1="1550" x2="683" y2="1550"/>
 <line x1="675" y1="1408" x2="675" y2="1550" marker-start="url(#ak)" marker-end="url(#ak)"/>
 <line x1="557" y1="1392" x2="705" y2="1392"/>
 <line x1="547" y1="1567" x2="705" y2="1567"/>
 <line x1="697" y1="1392" x2="697" y2="1567" marker-start="url(#ak)" marker-end="url(#ak)"/>
 <line x1="392" y1="1370" x2="442" y2="1421"/>
 <line x1="626" y1="1345" x2="583" y2="1420"/>
 <line x1="482" y1="1572" x2="493" y2="1549"/>
 <line x1="565" y1="1530" x2="621" y2="1603"/>
</g>
<g class="sf" fill="#111" font-size="13">
 <text x="615" y="1341" font-weight="bold">Y、J<tspan font-size="9" dy="3">1</tspan><tspan dy="-3"> 型轴孔</tspan></text>
 <text x="385" y="1367" font-weight="bold">Y、J<tspan font-size="9" dy="3">1</tspan><tspan dy="-3"> 型轴孔</tspan></text>
 <text x="518" y="1379" font-style="italic">B<tspan font-size="9" dy="3">1</tspan></text>
 <text x="632" y="1367" font-style="italic">F</text>
 <text x="479" y="1452" font-style="italic">L</text>
 <text x="515" y="1452" font-style="italic">C</text>
 <text x="540" y="1452" font-style="italic">C</text>
 <text x="570" y="1452" font-style="italic">L</text>
 <text transform="translate(396,1513) rotate(-90)" text-anchor="middle" font-style="italic">D<tspan font-size="9" dy="3">4</tspan></text>
 <text transform="translate(414,1492) rotate(-90)" text-anchor="middle" font-style="italic">d<tspan font-size="9" dy="3">2</tspan></text>
 <text transform="translate(652,1485) rotate(-90)" text-anchor="middle" font-style="italic">d<tspan font-size="9" dy="3">1</tspan></text>
 <text transform="translate(672,1475) rotate(-90)" text-anchor="middle" font-style="italic">D<tspan font-size="9" dy="3">3</tspan></text>
 <text transform="translate(693,1475) rotate(-90)" text-anchor="middle" font-style="italic">D<tspan font-size="9" dy="3">1</tspan></text>
 <text x="452" y="1586" font-weight="bold">注油孔</text>
 <text x="519" y="1597" font-weight="bold">II 型</text>
 <text x="622" y="1616" font-weight="bold">标志</text>
 <text x="338" y="1745" font-size="15">WG 型鼓形齿式联轴器</text>
</g>
</svg>
</body></html>
